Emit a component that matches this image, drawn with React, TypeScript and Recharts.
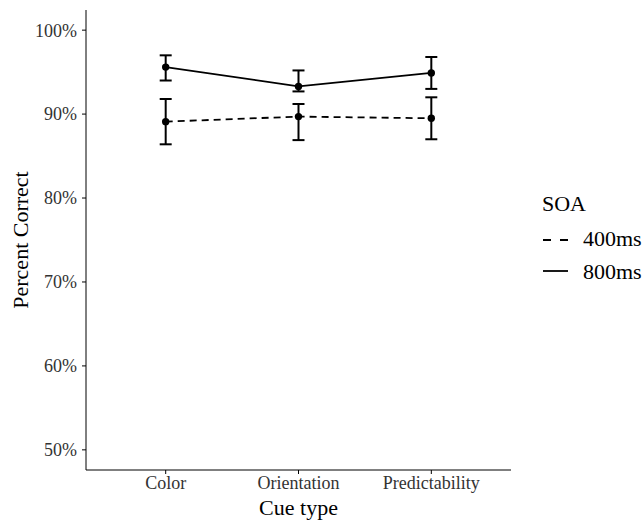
import { LineChart, Line, XAxis, YAxis, ErrorBar } from 'recharts';

const cueTypes = ['Color', 'Orientation', 'Predictability'];
const soaLabels = ['400ms', '800ms'];
const soaDash = ['7 5', undefined];
const soaKeyDash = ['8 9', undefined];

// mean percent correct and the error bar bounds
const mean400 = [89.1, 89.7, 89.5];
const low400 = [86.4, 86.9, 87.0];
const high400 = [91.8, 91.2, 92.0];

const mean800 = [95.6, 93.3, 94.9];
const low800 = [94.0, 92.7, 93.0];
const high800 = [97.0, 95.2, 96.8];

const yTicks = [50, 60, 70, 80, 90, 100];

const FONT = '"Liberation Serif", "Times New Roman", serif';

const data = cueTypes.map((cue, i) => ({
  x: i + 1,
  cue,
  s400: mean400[i],
  e400: [mean400[i] - low400[i], high400[i] - mean400[i]],
  s800: mean800[i],
  e800: [mean800[i] - low800[i], high800[i] - mean800[i]],
}));

// legend sits to the right of the panel, like ggplot's guide
const SoaLegend = () => (
  <svg
    width={116}
    height={110}
    style={{ position: 'absolute', left: 528, top: 185, fontFamily: FONT }}
  >
    <text x={14} y={26} fontSize={22} fill="#000">SOA</text>
    {soaLabels.map((label, i) => (
      <g key={label}>
        <line
          x1={15}
          x2={40}
          y1={55 + 31 * i}
          y2={55 + 31 * i}
          stroke="#000"
          strokeWidth={1.8}
          strokeDasharray={soaKeyDash[i]}
        />
        <text x={55} y={61 + 33 * i} fontSize={22} fill="#000">{label}</text>
      </g>
    ))}
  </svg>
);

export default function App() {
  return (
    <div style={{ position: 'absolute', left: 0, top: 0, width: 644, height: 522, background: '#fff' }}>
      <LineChart width={644} height={522} data={data} margin={{ top: 10, right: 133, left: 0, bottom: 0 }}>
        <XAxis
          type="number"
          dataKey="x"
          domain={[0.4, 3.6]}
          ticks={[1, 2, 3]}
          tickFormatter={(v: number) => cueTypes[v - 1]}
          height={52}
          tickSize={4}
          tickMargin={2}
          stroke="#000"
          tick={{ fill: '#333', fontSize: 18, fontFamily: FONT }}
          label={{ value: 'Cue type', position: 'insideBottom', offset: 7, fill: '#000', fontSize: 22, fontFamily: FONT }}
        />
        <YAxis
          type="number"
          domain={[47.6, 102.4]}
          ticks={yTicks}
          tickFormatter={(v: number) => `${v}%`}
          width={86}
          tickSize={4}
          tickMargin={5}
          stroke="#000"
          allowDataOverflow
          tick={{ fill: '#333', fontSize: 18, fontFamily: FONT }}
          label={{
            value: 'Percent Correct',
            angle: -90,
            position: 'insideLeft',
            offset: 20,
            fill: '#000',
            fontSize: 22,
            fontFamily: FONT,
            style: { textAnchor: 'middle' },
          }}
        />
        <Line
          name={soaLabels[0]}
          dataKey="s400"
          stroke="#000"
          strokeWidth={1.8}
          strokeDasharray={soaDash[0]}
          dot={{ r: 3.7, fill: '#000', stroke: '#000', strokeWidth: 0 }}
          isAnimationActive={false}
        >
          <ErrorBar dataKey="e400" direction="y" width={6} stroke="#000" strokeWidth={2} isAnimationActive={false} />
        </Line>
        <Line
          name={soaLabels[1]}
          dataKey="s800"
          stroke="#000"
          strokeWidth={1.8}
          dot={{ r: 3.7, fill: '#000', stroke: '#000', strokeWidth: 0 }}
          isAnimationActive={false}
        >
          <ErrorBar dataKey="e800" direction="y" width={6} stroke="#000" strokeWidth={2} isAnimationActive={false} />
        </Line>
      </LineChart>
      <SoaLegend />
    </div>
  );
}
